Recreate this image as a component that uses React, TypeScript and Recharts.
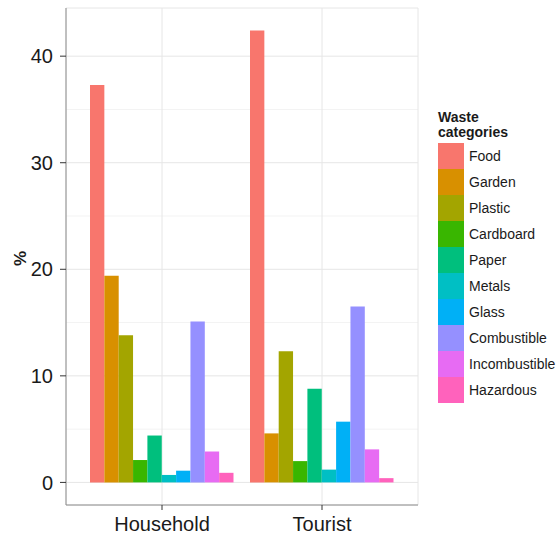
import React from 'react';
import {
  BarChart,
  Bar,
  XAxis,
  YAxis,
  CartesianGrid,
  Legend,
} from 'recharts';

const categories = ['Household', 'Tourist'];
const wasteTypes = [
  'Food',
  'Garden',
  'Plastic',
  'Cardboard',
  'Paper',
  'Metals',
  'Glass',
  'Combustible',
  'Incombustible',
  'Hazardous',
];
const wasteColors = [
  '#F8766D',
  '#D89000',
  '#A3A500',
  '#39B600',
  '#00BF7D',
  '#00BFC4',
  '#00B0F6',
  '#9590FF',
  '#E76BF3',
  '#FF62BC',
];
const householdValues = [37.3, 19.4, 13.8, 2.1, 4.4, 0.7, 1.1, 15.1, 2.9, 0.9];
const touristValues = [42.4, 4.6, 12.3, 2.0, 8.8, 1.2, 5.7, 16.5, 3.1, 0.4];
const yTicks = [0, 10, 20, 30, 40];
const yMinorTicks = [5, 15, 25, 35];
const yDomain: [number, number] = [-2.12, 44.52];
const legendTitle = ['Waste', 'categories'];
const yAxisTitle = '%';

const seriesByCategory = [householdValues, touristValues];
const data = categories.map((c, i) => {
  const row: Record<string, string | number> = { category: c };
  wasteTypes.forEach((w, j) => {
    row[w] = seriesByCategory[i][j];
  });
  return row;
});

const FONT = '"Liberation Sans", Arial, Helvetica, sans-serif';
const TEXT = '#1a1a1a';
const BORDER = '#8c8c8c';

const LegendBox = () => (
  <div style={{ fontFamily: FONT, color: TEXT }}>
    <div
      style={{
        fontWeight: 'bold',
        fontSize: 14,
        lineHeight: '15px',
        marginBottom: 3,
      }}
    >
      <div>{legendTitle[0]}</div>
      <div>{legendTitle[1]}</div>
    </div>
    {wasteTypes.map((w, i) => (
      <div
        key={w}
        style={{ display: 'flex', alignItems: 'center', height: 26 }}
      >
        <div style={{ width: 26, height: 26, background: wasteColors[i] }} />
        <span style={{ marginLeft: 5, fontSize: 14, lineHeight: '16px' }}>{w}</span>
      </div>
    ))}
  </div>
);

const YTitle = (props: any) => {
  const vb = props.viewBox || { x: 0, y: 8, width: 66, height: 497 };
  const cy = vb.y + vb.height / 2 + 2;
  return (
    <text
      x={20}
      y={cy}
      transform={`rotate(-90, 20, ${cy})`}
      textAnchor="middle"
      dominantBaseline="central"
      fontFamily={FONT}
      fontWeight="bold"
      fontSize={17}
      fill={TEXT}
    >
      {yAxisTitle}
    </text>
  );
};

// minor horizontal grid positions, derived from the y domain and plot area
const minorGen = (args: any) => {
  const scale = args?.yAxis?.scale;
  if (typeof scale === 'function') return yMinorTicks.map((v) => scale(v));
  const off = args?.offset;
  if (!off) return [];
  const [lo, hi] = yDomain;
  return yMinorTicks.map((v) => off.top + (off.height * (hi - v)) / (hi - lo));
};

export default function App() {
  return (
    <div
      style={{
        position: 'absolute',
        left: 0,
        top: 0,
        width: 559,
        height: 537,
        background: '#ffffff',
        fontFamily: FONT,
      }}
    >
      <BarChart
        width={559}
        height={537}
        data={data}
        margin={{ top: 8, right: 141, bottom: 0, left: 0 }}
        barSize={14.35}
        barGap={0}
      >
        <CartesianGrid
          stroke="#f3f3f3"
          strokeWidth={1}
          vertical={false}
          horizontalCoordinatesGenerator={minorGen}
        />
        <CartesianGrid stroke="#e6e6e6" strokeWidth={1} />
        <XAxis
          dataKey="category"
          padding={{ left: 16, right: 16 }}
          height={32}
          tickSize={5}
          tickMargin={7}
          axisLine={{ stroke: BORDER }}
          tickLine={{ stroke: '#333333' }}
          tick={{ fontSize: 20, fill: TEXT, fontFamily: FONT }}
        />
        <XAxis
          xAxisId="top"
          orientation="top"
          dataKey="category"
          height={0}
          tick={false}
          tickLine={false}
          axisLine={{ stroke: BORDER }}
        />
        <YAxis
          type="number"
          domain={yDomain}
          allowDataOverflow
          ticks={yTicks}
          width={66}
          tickSize={6}
          tickMargin={7}
          axisLine={{ stroke: BORDER }}
          tickLine={{ stroke: '#333333' }}
          tick={{ fontSize: 20, fill: TEXT, fontFamily: FONT }}
          label={<YTitle />}
        />
        <YAxis
          yAxisId="right"
          orientation="right"
          type="number"
          domain={yDomain}
          allowDataOverflow
          width={0}
          tick={false}
          tickLine={false}
          axisLine={{ stroke: BORDER }}
        />
        {wasteTypes.map((w, i) => (
          <Bar
            key={w}
            dataKey={w}
            fill={wasteColors[i]}
            isAnimationActive={false}
          />
        ))}
        <Legend
          layout="vertical"
          align="center"
          verticalAlign="middle"
          wrapperStyle={{ position: 'absolute', left: 438, top: 110, width: 121 }}
          content={() => <LegendBox />}
        />
      </BarChart>
    </div>
  );
}
